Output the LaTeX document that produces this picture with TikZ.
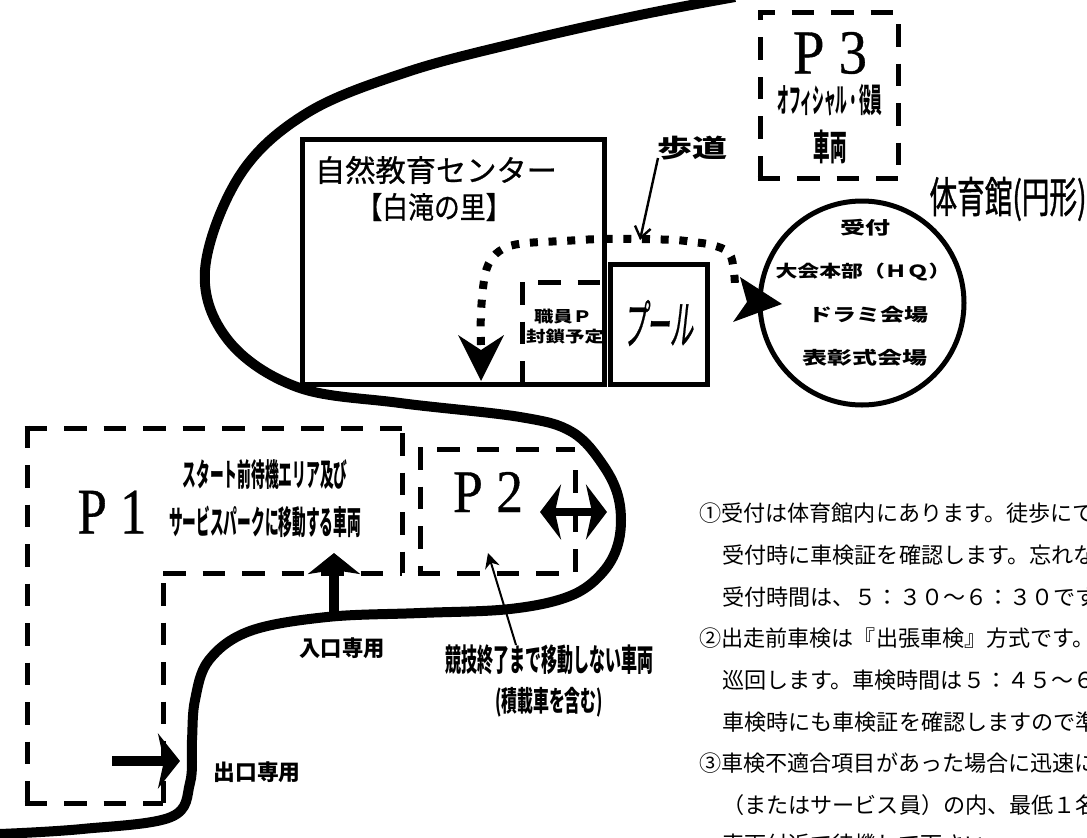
\documentclass[tikz,border=0pt]{standalone}
\usepackage{graphicx}
\usepackage{fontspec}
\setmainfont{Noto Sans CJK JP}
\newfontfamily\latinserif[FakeBold=0.6]{Liberation Serif}
\newfontfamily\slantcjk[FakeSlant=0.25,FakeBold=0.8]{Noto Sans CJK JP}
\newfontfamily\medcjk[FakeBold=0.7]{Noto Sans CJK JP}
\newfontfamily\gymcjk[FakeBold=1.2]{Noto Sans CJK JP}
\usetikzlibrary{arrows.meta}
\newcommand{\fitt}[3]{\resizebox*{#1pt}{#2pt}{#3}}
\tikzset{
  road/.style={line width=10pt,line cap=butt,line join=round},
  parkbox/.style={line width=5pt,dash pattern=on 22.5pt off 17pt,line join=miter},
  walk/.style={line width=8pt,dash pattern=on 8pt off 10.7pt},
  label/.style={inner sep=0pt,font=\bfseries},
  pointer/.style={line width=2.4pt,-{Straight Barb[length=11pt,width=16pt]}},
  pointerb/.style={line width=2pt,-{Stealth[length=15pt,width=15pt,inset=5pt]}},
  bodytext/.style={inner sep=0pt,anchor=west,font=\fontsize{22.1}{23}\selectfont}
}
\begin{document}
\begin{tikzpicture}[x=1pt,y=-1pt]
\useasboundingbox (0,0) rectangle (1087,838);
\clip (0,0) rectangle (1087,838);
% road
\draw[road] plot[smooth,tension=0.6] coordinates {(735,-3) (640,15) (520,42) (407,72) (307,113) (240,175) (205,270) (228,340) (297,387) (400,403) (520,417) (572,432) (603,465) (619,500) (619,540) (603,572) (570,596) (510,609) (420,613) (327,617) (250,631) (209,660) (195,700) (192,740) (190,783) (171,817) (82,829) (0,834)};
% buildings
\node[draw,line width=5pt,inner sep=0pt] (center) at (453.5,262) {\rule{0pt}{245pt}\rule{302pt}{0pt}};
\node[draw,line width=5pt,inner sep=0pt] (pool) at (658.5,324.5) {\rule{0pt}{120pt}\rule{97pt}{0pt}};
\node[draw,circle,line width=5pt,minimum size=204pt,inner sep=0pt] (gym) at (862,303) {};
% parking P3
\draw[parkbox] (760,178) -- (760,12) -- (898,12) -- (898,178);
\draw[parkbox] (757.5,178) -- (898,178);
% parking P1
\draw[parkbox] (24.5,428) -- (402,428);
\draw[parkbox] (27,425.5) -- (27,803);
\draw[parkbox] (24.5,803) -- (163,803);
\draw[parkbox] (402,433) -- (402,573);
\draw[parkbox] (163,573) -- (402,573);
\draw[parkbox] (163,583) -- (163,803);
% parking P2
\draw[parkbox] (420,447) -- (420,575.5);
\draw[parkbox] (437,449) -- (575,449);
\draw[parkbox] (417.5,573) -- (575,573);
\draw[parkbox] (575,470) -- (575,573);
% staff parking
\draw[parkbox] (522,282) -- (522,386);
\draw[parkbox] (538,282) -- (605,282);
% walk
\coordinate (wtip0) at (481,381);
\coordinate (wtip1) at (782,304);
\draw[walk] plot[smooth,tension=0.6] coordinates {(481,345) (481,312) (485,275) (493,257) (507,247) (527,243) (563,241) (600,239) (638,239) (675,240) (693,242) (712,245) (729,253) (734,272) (735,291)};
\fill (wtip0) -- (458,335) -- (481,350) -- (504,335) -- cycle;
\fill (wtip1) -- (740,277) -- (747,302) -- (733,322) -- cycle;
% labels
\node[label] (walklabel) at (692,148) {\fitt{70}{24}{歩道}};
\coordinate (walktip) at (640,240);
\draw[pointer] (658,158) -- (walktip);
\node[inner sep=0pt] (p3) at (830,53) {\latinserif\fitt{74}{42}{P 3}};
\node[label] (p3a) at (830,100) {\fitt{105}{32}{オフィシャル・役員}};
\node[label] (p3b) at (830,147) {\fitt{33}{34}{車両}};
\node[inner sep=0pt] (gymt) at (1008,199) {\gymcjk\fitt{157}{44}{体育館(円形)}};
\node[label] at (865,228) {\fitt{50}{17}{受付}};
\node[label] at (863,272) {\fitt{175}{18}{大会本部（ＨＱ）}};
\node[label] at (868,315) {\fitt{120}{17}{ドラミ会場}};
\node[label] at (865,358) {\fitt{125}{17}{表彰式会場}};
\node[inner sep=0pt] at (436,170) {\medcjk\fitt{242}{28}{自然教育センター}};
\node[inner sep=0pt] at (434,207) {\medcjk\fitt{155}{28}{【白滝の里】}};
\node[label] at (563,317) {\fitt{58}{15}{職員Ｐ}};
\node[label] at (565,337) {\fitt{78}{15}{封鎖予定}};
\node[inner sep=0pt] at (658,323) {\slantcjk\fitt{70}{46}{プール}};
\node[inner sep=0pt] at (112,512) {\latinserif\fitt{69}{43}{P 1}};
\node[inner sep=0pt] at (488,492) {\latinserif\fitt{70}{40}{P 2}};
\node[label] at (265,475) {\fitt{165}{30}{スタート前待機エリア及び}};
\node[label] at (265,522) {\fitt{192}{32}{サービスパークに移動する車両}};
\node[label] (entry) at (342,648) {\fitt{85}{21}{入口専用}};
\node[label] (exitt) at (257,772) {\fitt{87}{21}{出口専用}};
\node[label] (keep) at (549,660) {\fitt{208}{30}{競技終了まで移動しない車両}};
\node[label] at (549,702) {\fitt{108}{30}{(積載車を含む)}};
% arrows
\draw[line width=8pt,{Stealth[length=21pt,width=55pt,inset=6pt]}-{Stealth[length=21pt,width=55pt,inset=6pt]}] (540,512) -- (607,512);
\coordinate (upbase) at (334,616);
\coordinate (uptip) at (334,553);
\draw[line width=10pt,-{Stealth[length=21pt,width=52pt,inset=4pt]}] (upbase) -- (uptip);
\coordinate (rbase) at (112,761);
\coordinate (rtip) at (180,761);
\draw[line width=10pt,-{Stealth[length=22pt,width=55pt,inset=6pt]}] (rbase) -- (rtip);
\coordinate (ptrbase) at (516,645);
\coordinate (ptrtip) at (488,553);
\draw[pointerb] (ptrbase) -- (ptrtip);
% notes
\node[bodytext] at (699,513) {①受付は体育館内にあります。徒歩にて};
\node[bodytext] at (722,555) {受付時に車検証を確認します。忘れな};
\node[bodytext] at (722,597) {受付時間は、５：３０～６：３０です};
\node[bodytext] at (699,638) {②出走前車検は『出張車検』方式です。};
\node[bodytext] at (722,680) {巡回します。車検時間は５：４５～６};
\node[bodytext] at (722,722) {車検時にも車検証を確認しますので準};
\node[bodytext] at (699,763) {③車検不適合項目があった場合に迅速に};
\node[bodytext] at (722,805) {（またはサービス員）の内、最低１名};
\node[bodytext] at (722,844) {車両付近で待機して下さい。};
\end{tikzpicture}
\end{document}
